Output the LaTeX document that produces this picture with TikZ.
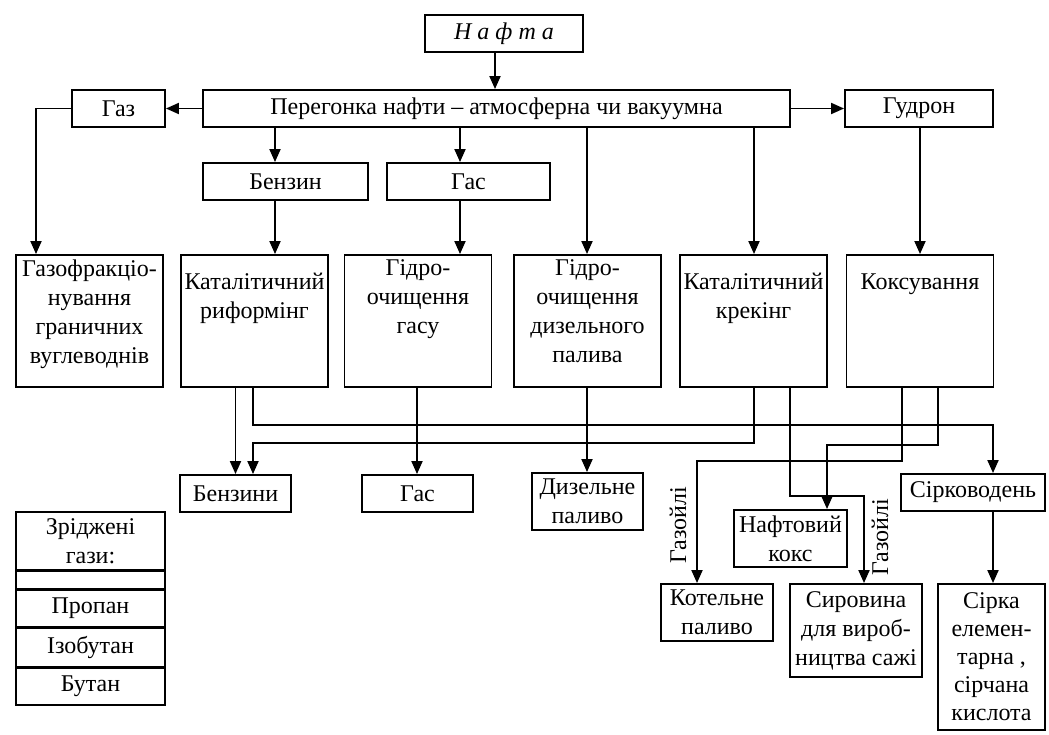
\documentclass[tikz,border=0pt]{standalone}
\usepackage{fontspec}
\setmainfont{Liberation Serif}
\usetikzlibrary{arrows.meta,positioning}
\newcommand{\toptext}[1]{\parbox[t][122pt][t]{146pt}{\centering #1}}

\begin{document}
\begin{tikzpicture}[x=1pt, y=-1pt, line width=1.9pt,
    >={Triangle[length=13pt,width=11pt]},
    every node/.style={font=\fontsize{24}{29}\selectfont},
    box/.style={draw, rectangle, inner sep=0pt, align=center},
    bigbox/.style={draw, rectangle, inner sep=0pt, minimum width=147pt, minimum height=132pt}]
    \useasboundingbox (0,0) rectangle (1049,734);

    \node[box, minimum width=158pt, minimum height=37pt] (nafta) at (504,33.5) {\textit{Н а ф т а}};
    \node[box, minimum width=587pt, minimum height=37pt] (pereg) at (496.5,108.5) {Перегонка нафти – атмосферна чи вакуумна};
    \node[box, minimum width=93pt, minimum height=37pt] (gaz) at (118.5,108.5) {Газ};
    \node[box, minimum width=148pt, minimum height=37pt] (gudron) at (919,108.5) {Гудрон};
    \node[box, minimum width=165pt, minimum height=37pt] (benzin) at (285.5,181.5) {Бензин};
    \node[box, minimum width=163pt, minimum height=37pt] (gas) at (468.5,181.5) {Гас};

    \node[bigbox] (gfr) at (89.5,321) {\toptext{Газофракціо-\\нування\\граничних\\вуглеводнів}};
    \node[bigbox] (krif) at (254.5,321) {\toptext{\mbox{}\\Каталітичний\\риформінг}};
    \node[bigbox] (ggas) at (418,321) {\toptext{Гідро-\\очищення\\гасу}};
    \node[bigbox] (gdiz) at (587.5,321) {\toptext{Гідро-\\очищення\\дизельного\\палива}};
    \node[bigbox] (kkrek) at (753.5,321) {\toptext{\mbox{}\\Каталітичний\\крекінг}};
    \node[bigbox] (koks) at (920,321) {\toptext{\mbox{}\\Коксування}};

    \node[box, minimum width=111pt, minimum height=37pt] (benzini) at (235.5,493.5) {Бензини};
    \node[box, minimum width=111pt, minimum height=37pt] (gasb) at (417.5,493.5) {Гас};
    \node[box, minimum width=111pt, minimum height=57pt] (dizel) at (587.5,501.5) {Дизельне\\паливо};
    \node[box, minimum width=113pt, minimum height=57pt] (nkoks) at (790.5,538.5) {Нафтовий\\кокс};
    \node[box, minimum width=112pt, minimum height=57pt] (kotel) at (717,612.5) {Котельне\\паливо};
    \node[box, minimum width=132pt, minimum height=93pt] (sirov) at (856,630.5) {Сировина\\для вироб-\\ництва сажі};
    \node[box, minimum width=144pt, minimum height=37pt] (sirkov) at (973,492.5) {Сірководень};
    \node[box, minimum width=107pt, minimum height=146pt, font=\fontsize{24}{28}\selectfont] (sirka) at (991.5,657) {Сірка\\елемен-\\тарна ,\\сірчана\\кислота};

    \node[rotate=90, inner sep=0pt] (gzl1) at (678,525) {Газойлі};
    \node[rotate=90, inner sep=0pt] (gzl2) at (880,537) {Газойлі};

    \node[box, minimum width=149pt, minimum height=58pt] (zr1) at (90.5,541) {Зріджені\\гази:};
    \node[box, minimum width=149pt, minimum height=18pt, below=-1pt of zr1] (zr2) {};
    \node[box, minimum width=149pt, minimum height=37pt, below=-1pt of zr2] (zr3) {Пропан};
    \node[box, minimum width=149pt, minimum height=39pt, below=-1pt of zr3] (zr4) {Ізобутан};
    \node[box, minimum width=149pt, minimum height=37pt, below=-1pt of zr4] (zr5) {Бутан};

    \coordinate (cn) at (495,0);
    \coordinate (cg) at (36,0);
    \coordinate (cb) at (275,0);
    \coordinate (ck) at (460,0);
    \coordinate (cgs) at (417,0);
    \coordinate (cd) at (587,0);
    \coordinate (ce) at (754,0);
    \coordinate (cu) at (920,0);
    \coordinate (cr) at (253,0);
    \coordinate (cs) at (993,0);
    \coordinate (ckr) at (790,0);
    \coordinate (csv) at (864,0);
    \coordinate (ck1) at (902,0);
    \coordinate (ckt) at (697,0);
    \coordinate (ck2) at (938,0);
    \coordinate (cnk) at (827,0);

    \draw[->] (nafta.south -| cn) -- (pereg.north -| cn);
    \draw[->] (pereg.west) -- (gaz.east);
    \draw[->] (pereg.east) -- (gudron.west);
    \draw[->] (gaz.west) -| (gfr.north -| cg);
    \draw[->] (pereg.south -| cb) -- (benzin.north -| cb);
    \draw[->] (pereg.south -| ck) -- (gas.north -| ck);
    \draw[->] (pereg.south -| cd) -- (gdiz.north -| cd);
    \draw[->] (pereg.south -| ce) -- (kkrek.north -| ce);
    \draw[->] (gudron.south -| cu) -- (koks.north -| cu);
    \draw[->] (benzin.south -| cb) -- (krif.north -| cb);
    \draw[->] (gas.south -| ck) -- (ggas.north -| ck);
    \draw[->] (ggas.south -| cgs) -- (gasb.north -| cgs);
    \draw[->] (gdiz.south -| cd) -- (dizel.north -| cd);
    \draw[->] (krif.south -| benzini.north) -- (benzini.north);
    \draw[->] (krif.south -| cr) -- ++(0,37) -| (sirkov.north -| cs);
    \draw[->] (kkrek.south -| ce) -- ++(0,55) -| (benzini.north -| cr);
    \draw[->] (kkrek.south -| ckr) -- ++(0,108) -| (sirov.north -| csv);
    \draw[->] (koks.south -| ck1) -- ++(0,73) -| (kotel.north -| ckt);
    \draw[->] (koks.south -| ck2) -- ++(0,57) -| (nkoks.north -| cnk);
    \draw[->] (sirkov.south -| cs) -- (sirka.north -| cs);
\end{tikzpicture}
\end{document}
